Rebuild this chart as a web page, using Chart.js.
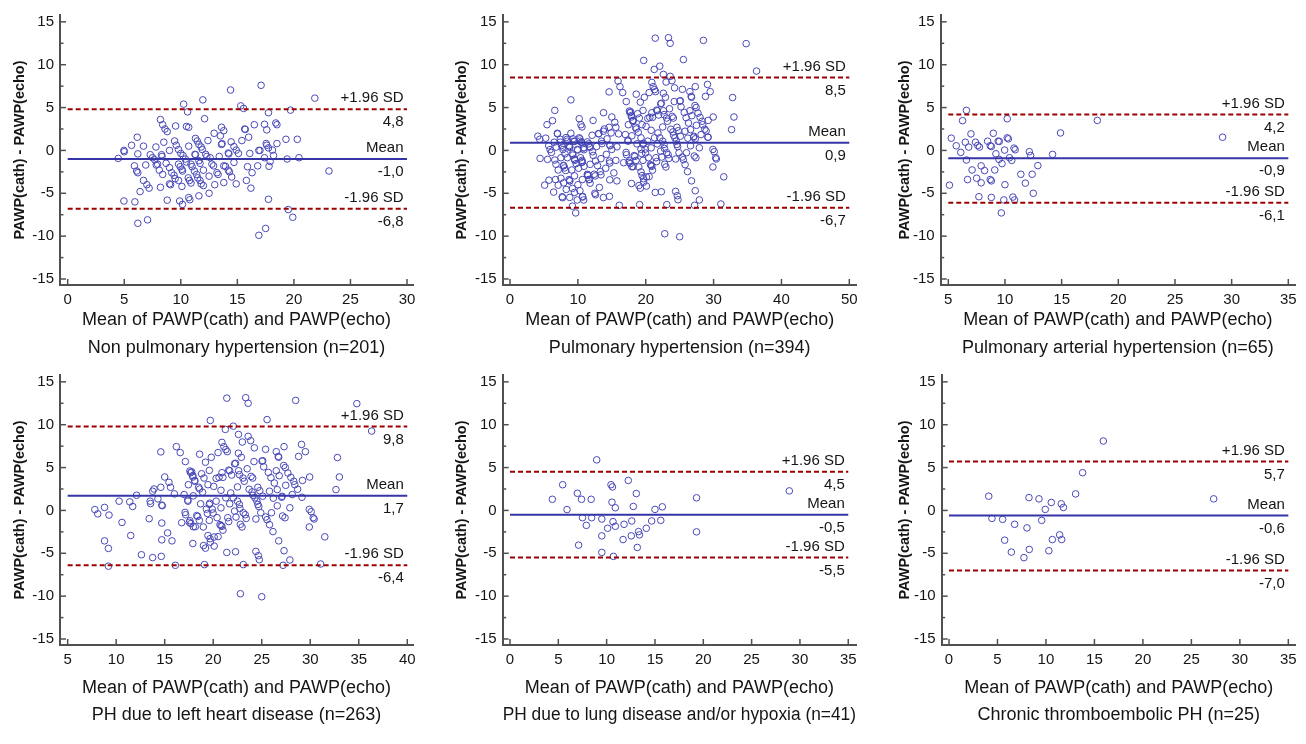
<!DOCTYPE html>
<html>
<head>
<meta charset="utf-8">
<title>Bland-Altman PAWP</title>
<script src="https://cdn.jsdelivr.net/npm/chart.js@4"></script>
<style>
  body { margin: 0; background: #fff; }
  .panel { position: absolute; }
</style>
</head>
<body>
<div id="wrap"></div>
<script>
// tick labels
const yTicks = [-15, -10, -5, 0, 5, 10, 15];
const xTicksNonPH = [0, 5, 10, 15, 20, 25, 30];
const xTicksPH = [0, 10, 20, 30, 40, 50];
const xTicksPAH = [5, 10, 15, 20, 25, 30, 35];
const xTicksLHD = [5, 10, 15, 20, 25, 30, 35, 40];
const xTicksLung = [0, 5, 10, 15, 20, 25, 30, 35];
const xTicksCTEPH = [0, 5, 10, 15, 20, 25, 30, 35];

const groupTitles = [
  'Non pulmonary hypertension (n=201)',
  'Pulmonary hypertension (n=394)',
  'Pulmonary arterial hypertension (n=65)',
  'PH due to left heart disease (n=263)',
  'PH due to lung disease and/or hypoxia (n=41)',
  'Chronic thromboembolic PH (n=25)'
];

// bias and limits of agreement
const meanDiff = [-1.0, 0.9, -0.9, 1.7, -0.5, -0.6];
const upperLoA = [4.8, 8.5, 4.2, 9.8, 4.5, 5.7];
const lowerLoA = [-6.8, -6.7, -6.1, -6.4, -5.5, -7.0];

// [mean, difference]
const nonPH = [[4.47,-0.93],[4.97,0.0],[5.0,-0.15],[4.97,-5.9],[5.65,0.6],[6.15,1.54],[5.9,-1.8],[6.1,-2.4],[6.2,-2.6],[6.2,-0.4],[5.94,-6.0],[6.2,-8.5],[6.4,-4.8],[6.7,0.5],[6.7,-3.5],[7.0,-4.0],[7.2,-4.4],[6.9,-1.7],[7.06,-8.1],[7.3,-0.5],[7.5,-0.85],[7.7,-1.1],[7.8,0.4],[7.95,-1.6],[8.1,-2.3],[8.2,3.6],[8.4,3.0],[8.6,2.5],[8.8,2.2],[8.2,-4.3],[8.3,-0.5],[8.4,-2.8],[8.5,0.96],[8.7,-1.5],[8.8,-5.8],[9.0,0.0],[9.0,-2.0],[9.2,-2.6],[9.4,-2.9],[9.5,-3.3],[9.0,-3.9],[9.1,-4.0],[9.45,1.1],[9.6,0.6],[9.8,0.1],[10.0,-0.35],[10.2,-0.6],[9.54,2.85],[9.8,-1.6],[9.95,-1.9],[10.1,-2.2],[10.15,-2.4],[9.8,-3.5],[9.9,-5.9],[10.15,-6.3],[10.1,-4.2],[10.25,5.4],[10.4,-1.0],[10.5,-1.35],[10.5,2.8],[10.7,2.7],[10.7,0.5],[10.6,4.5],[10.66,-3.2],[10.77,-3.5],[10.9,-3.8],[10.7,-5.5],[10.8,-5.75],[10.9,-1.6],[11.0,-1.9],[11.2,-2.4],[11.4,-2.8],[11.5,-3.2],[11.7,-3.5],[11.8,-3.9],[12.0,-4.1],[11.25,-0.46],[11.3,-0.5],[11.3,1.4],[11.45,1.1],[11.6,0.7],[11.8,0.4],[11.9,0.1],[11.6,-1.2],[11.7,-1.5],[11.6,-5.3],[11.95,5.9],[12.1,3.7],[12.0,-2.3],[12.2,-0.45],[12.3,-0.7],[12.4,1.15],[12.5,-5.0],[12.5,-3.0],[12.6,-0.85],[12.75,-1.6],[12.9,-1.8],[12.95,2.0],[13.0,-4.0],[13.2,-2.6],[13.3,-2.8],[13.4,-0.7],[13.5,1.7],[13.6,2.7],[13.8,2.3],[13.6,0.7],[13.65,0.8],[13.8,-1.8],[13.95,-1.85],[13.8,-3.75],[14.2,-2.3],[14.3,-2.5],[14.5,-3.1],[14.2,-0.3],[14.25,-0.4],[14.4,7.05],[14.45,1.0],[14.7,0.45],[14.9,0.04],[15.1,-0.35],[14.7,-1.4],[14.9,-3.9],[15.3,5.2],[15.55,4.9],[15.4,1.15],[15.65,2.5],[15.7,2.45],[15.8,-3.5],[15.9,-1.9],[16.0,1.55],[16.1,-0.35],[16.2,-4.4],[16.3,-2.6],[16.5,3.0],[16.8,-1.8],[16.9,0.0],[17.0,0.0],[16.9,-9.9],[17.1,7.6],[17.4,3.05],[17.4,-0.85],[17.5,-9.1],[17.55,0.8],[17.6,0.6],[17.75,0.3],[17.6,2.4],[17.75,4.4],[17.75,-5.7],[17.8,-1.85],[17.9,-1.3],[18.1,0.04],[18.2,-0.6],[18.4,3.2],[18.5,3.0],[18.5,0.8],[19.3,1.3],[19.4,-1.0],[19.5,-6.9],[19.7,4.7],[19.9,-7.8],[20.3,1.3],[20.45,-0.85],[21.85,6.1],[23.1,-2.4],[8.34,-0.7],[7.83,-1.7]];

const pah = [[5.1,-4.05],[5.26,1.43],[5.7,0.54],[6.1,-0.23],[6.26,3.47],[6.5,0.96],[6.6,4.67],[6.6,-1.12],[6.7,-3.4],[6.8,0.39],[7.0,1.93],[7.1,-2.28],[7.4,0.96],[7.5,-3.24],[7.6,0.58],[7.75,0.39],[7.7,-5.4],[7.9,-1.8],[7.9,-3.78],[8.2,-2.35],[8.47,1.08],[8.7,-3.4],[8.8,-3.55],[8.8,0.46],[8.7,0.55],[8.8,-5.48],[8.97,2.0],[9.1,-2.28],[9.2,-0.39],[9.4,1.08],[9.5,1.05],[9.47,-1.04],[9.68,-7.29],[9.74,-1.54],[9.9,-5.78],[9.97,0.04],[10.0,-4.0],[10.2,3.7],[10.2,1.47],[10.3,1.35],[10.4,-0.85],[10.6,-1.16],[10.7,-5.44],[10.8,0.27],[10.9,0.08],[10.85,-5.78],[11.4,-2.78],[11.8,-3.82],[12.15,-0.15],[12.26,-0.58],[12.4,-2.78],[12.5,-5.0],[12.9,-1.77],[14.2,-0.46],[14.9,2.04],[18.15,3.5],[29.2,1.54]];

const lhd = [[7.8,0.1],[8.1,-0.4],[8.8,0.35],[8.8,-3.55],[9.2,-4.43],[9.2,-6.5],[9.26,-0.54],[10.3,1.08],[10.6,-1.4],[11.4,1.0],[11.5,-2.93],[11.7,0.46],[12.1,1.77],[12.6,-5.17],[13.4,-0.96],[13.5,1.08],[13.55,0.8],[13.76,2.24],[13.76,-5.5],[13.9,2.5],[14.3,1.35],[14.6,6.83],[14.6,2.7],[14.7,0.62],[14.75,0.55],[14.7,-1.47],[14.7,-3.43],[14.65,-5.36],[15.0,3.9],[15.3,-2.62],[15.44,3.28],[15.6,2.7],[15.75,-3.55],[16.0,1.93],[16.1,-6.4],[16.2,7.44],[16.6,6.75],[16.75,-1.43],[17.0,1.85],[17.1,-0.23],[17.16,-0.5],[17.13,5.7],[17.4,1.08],[17.44,3.0],[17.54,-1.39],[17.6,4.6],[17.67,4.4],[17.7,-1.54],[17.9,3.9],[17.9,-3.86],[17.95,1.7],[18.1,3.4],[18.15,-1.9],[18.4,-0.7],[18.5,2.7],[18.6,2.5],[18.57,-1.16],[18.6,6.56],[18.7,0.77],[18.8,4.28],[18.9,2.12],[18.98,-1.93],[19.0,-4.1],[19.2,-4.4],[19.05,3.78],[19.1,-6.32],[19.2,5.63],[19.3,0.15],[19.4,-0.35],[19.46,3.0],[19.46,-2.93],[19.6,0.7],[19.65,0.85],[19.6,4.67],[19.67,-3.3],[19.7,-3.7],[19.6,-1.16],[19.7,10.5],[19.8,6.2],[19.9,0.15],[19.98,-0.3],[20.05,2.8],[20.1,-3.1],[20.1,-4.16],[20.3,1.08],[20.3,3.74],[20.4,-0.85],[20.5,-3.05],[20.5,6.75],[20.6,3.86],[20.7,-1.66],[20.8,-1.77],[20.9,-1.85],[20.8,0.3],[20.8,2.35],[20.9,7.94],[20.9,4.4],[21.0,3.86],[21.0,-2.3],[21.1,7.44],[21.25,9.45],[21.3,7.1],[21.45,6.86],[21.3,1.47],[21.4,13.1],[21.4,-4.9],[21.5,-0.85],[21.6,-1.3],[21.6,4.7],[21.7,4.63],[21.7,0.77],[21.8,2.04],[21.9,4.13],[22.07,9.83],[22.07,1.47],[22.2,-0.08],[22.2,5.44],[22.3,5.5],[22.3,-4.82],[22.35,-0.77],[22.5,1.08],[22.5,2.74],[22.6,8.87],[22.6,6.67],[22.62,4.63],[22.7,4.17],[22.7,0.7],[22.75,0.23],[22.8,-9.72],[22.8,-1.62],[22.9,6.2],[22.97,-1.93],[23.0,7.98],[23.07,3.78],[23.1,-6.32],[23.1,-0.27],[23.2,3.4],[23.3,-0.5],[23.35,13.15],[23.4,-0.93],[23.5,4.86],[23.6,12.5],[23.6,8.64],[23.7,2.47],[23.86,8.14],[23.9,3.97],[24.0,2.16],[24.07,3.78],[24.1,1.77],[24.2,5.7],[24.24,7.3],[24.3,1.47],[24.4,-4.78],[24.4,-1.0],[24.5,1.08],[24.6,0.7],[24.7,0.45],[24.6,2.7],[24.65,-5.28],[24.75,-5.75],[24.8,2.3],[24.9,-0.27],[25.03,5.75],[25.1,5.8],[25.0,-10.07],[25.1,1.66],[25.2,5.09],[25.4,-0.77],[25.4,7.13],[25.55,10.6],[25.54,-1.08],[25.68,4.43],[25.8,-1.66],[25.8,2.24],[25.95,3.82],[26.0,-0.27],[26.16,-2.47],[26.2,1.43],[26.3,3.2],[26.5,6.86],[26.5,4.63],[26.6,0.54],[26.7,6.3],[26.75,6.2],[26.6,2.43],[26.75,-3.55],[26.8,4.05],[27.05,1.54],[27.1,1.65],[27.15,-0.65],[27.3,7.44],[27.26,5.24],[27.3,-4.7],[27.2,-6.4],[27.4,-0.85],[27.43,5.0],[27.47,2.93],[27.7,4.36],[27.9,0.31],[27.9,-5.78],[28.0,3.86],[28.15,1.85],[28.3,3.4],[28.4,3.0],[28.5,12.84],[28.7,2.47],[28.8,6.3],[29.1,7.7],[29.2,3.5],[29.15,1.54],[29.5,6.86],[29.94,3.9],[29.9,0.12],[30.1,-0.15],[29.9,-1.93],[30.3,-0.85],[30.4,-1.0],[31.07,-6.25],[31.5,-3.08],[32.65,2.43],[32.8,6.17],[33.0,3.9],[34.8,12.46],[36.33,9.26],[17.6,-1.2],[17.95,-1.9],[18.3,-0.6],[17.78,4.5],[17.9,4.07],[18.1,3.5],[17.37,1.2]];

const lung = [[4.38,1.3],[5.45,3.0],[5.9,0.1],[6.97,2.0],[7.1,-4.05],[7.4,1.3],[7.5,-0.85],[7.9,-1.74],[8.4,1.3],[8.45,-0.85],[8.97,5.9],[9.5,-1.0],[9.5,-2.97],[9.5,-4.9],[10.1,-2.08],[10.45,3.0],[10.55,0.96],[10.6,2.74],[10.66,-1.31],[10.7,-5.36],[10.9,0.31],[10.9,-1.85],[11.7,-3.4],[11.8,-1.62],[12.24,3.5],[12.55,-2.97],[12.6,-1.23],[12.76,0.46],[13.07,1.97],[13.17,-4.32],[13.3,-2.47],[13.4,-2.85],[14.1,-2.08],[14.66,-1.23],[15.0,0.12],[15.6,-1.16],[15.76,0.42],[19.3,1.47],[19.3,-2.5],[28.9,2.28]];

const cteph = [[4.1,1.66],[4.43,-0.93],[5.53,-1.04],[5.74,-3.47],[6.43,-4.86],[6.77,-1.62],[7.73,-5.51],[8.04,-2.04],[8.25,1.5],[8.28,-4.55],[9.28,1.35],[9.56,-1.16],[9.93,0.12],[10.3,-4.7],[10.55,0.93],[10.66,-3.4],[11.41,-2.85],[11.58,0.77],[11.62,-3.4],[11.8,0.35],[13.06,1.93],[13.78,4.4],[15.92,8.1],[27.3,1.35]];

// the PH panel pools the four PH subgroups
const phAll = [].concat(pah, lhd, lung, cteph);

const groupData = [nonPH, phAll, pah, lhd, lung, cteph];
const groupXTicks = [xTicksNonPH, xTicksPH, xTicksPAH, xTicksLHD, xTicksLung, xTicksCTEPH];

// page layout of the six panels
const panelBox = [
  { left: 0,   top: 0,   w: 440, h: 360, caL: 60,   caR: 413,   xMin: -0.68, xMax: 30.53, yTitleX: 20,   row: 0 },
  { left: 440, top: 0,   w: 430, h: 360, caL: 62.7, caR: 416.7, xMin: -1.08, xMax: 51.09, yTitleX: 21.7, row: 0 },
  { left: 870, top: 0,   w: 436, h: 360, caL: 70.7, caR: 425,   xMin: 4.33,  xMax: 35.59, yTitleX: 35,   row: 0 },
  { left: 0,   top: 360, w: 440, h: 384, caL: 60,   caR: 413,   xMin: 4.21,  xMax: 40.59, yTitleX: 20,   row: 1 },
  { left: 440, top: 360, w: 430, h: 384, caL: 62.7, caR: 416,   xMin: -0.755,xMax: 35.8,  yTitleX: 21.7, row: 1 },
  { left: 870, top: 360, w: 436, h: 384, caL: 71.7, caR: 425.7, xMin: -0.753,xMax: 35.76, yTitleX: 35,   row: 1 }
];
const rowBox = [
  { caTop: 13, caBottom: 285, xTitleY: 320.5, subY: 347.7 },
  { caTop: 13, caBottom: 285, xTitleY: 328.3, subY: 355 }
];

const FONT = "'Liberation Sans', Arial, Helvetica, sans-serif";
const axisColor = '#505050';
const pointColor = '#4848b8';
const meanColor = '#3535a8';
const loaColor = '#9a0000';

Chart.defaults.font.family = FONT;
Chart.defaults.color = '#151515';

// short tick marks drawn inside the plot, like the original software
const insideTicks = {
  id: 'insideTicks',
  afterDraw(chart) {
    const { ctx, chartArea, scales: { x, y } } = chart;
    ctx.save();
    ctx.strokeStyle = axisColor;
    ctx.lineWidth = 1.5;
    const yv = y.ticks.map(t => t.value);
    yv.forEach((v, i) => {
      const py = y.getPixelForValue(v);
      ctx.beginPath(); ctx.moveTo(chartArea.left, py); ctx.lineTo(chartArea.left + 6, py); ctx.stroke();
      if (i < yv.length - 1) {
        const pm = y.getPixelForValue((v + yv[i + 1]) / 2);
        ctx.beginPath(); ctx.moveTo(chartArea.left, pm); ctx.lineTo(chartArea.left + 3.5, pm); ctx.stroke();
      }
    });
    x.ticks.forEach(t => {
      const px = x.getPixelForValue(t.value);
      ctx.beginPath(); ctx.moveTo(px, chartArea.bottom); ctx.lineTo(px, chartArea.bottom - 6); ctx.stroke();
    });
    ctx.restore();
  }
};

// "+1.96 SD / Mean / -1.96 SD" captions with their values
const loaLabels = {
  id: 'loaLabels',
  afterDatasetsDraw(chart, args, opts) {
    const { ctx, scales: { x, y } } = chart;
    const xr = x.getPixelForValue(opts.xEnd) - 3.5;
    const fmt = v => v.toFixed(1).replace('.', ',');
    ctx.save();
    ctx.font = '15px ' + FONT;
    ctx.fillStyle = '#151515';
    ctx.textAlign = 'right';
    ctx.textBaseline = 'middle';
    [['+1.96 SD', opts.upper], ['Mean', opts.mean], ['-1.96 SD', opts.lower]].forEach(([lab, v]) => {
      const py = y.getPixelForValue(v);
      ctx.fillText(lab, xr, py - 11);
      ctx.fillText(fmt(v), xr, py + 13);
    });
    ctx.restore();
  }
};

function hLine(x0, x1, v) {
  return [{ x: x0, y: v }, { x: x1, y: v }];
}

const wrap = document.getElementById('wrap');

groupData.forEach((pts, i) => {
  const box = panelBox[i];
  const row = rowBox[box.row];
  const ticksX = groupXTicks[i];
  const x0 = ticksX[0], x1 = ticksX[ticksX.length - 1];

  const div = document.createElement('div');
  div.className = 'panel';
  div.style.left = box.left + 'px';
  div.style.top = box.top + 'px';
  div.style.width = box.w + 'px';
  div.style.height = box.h + 'px';
  const canvas = document.createElement('canvas');
  div.appendChild(canvas);
  wrap.appendChild(div);

  const titleLH = 18 * 1.2;
  const subBoxTop = row.subY - titleLH / 2;

  new Chart(canvas, {
    type: 'scatter',
    data: {
      datasets: [
        {
          data: hLine(x0, x1, upperLoA[i]), showLine: true, pointRadius: 0,
          borderColor: loaColor, borderWidth: 2, borderDash: [5, 3]
        },
        {
          data: hLine(x0, x1, lowerLoA[i]), showLine: true, pointRadius: 0,
          borderColor: loaColor, borderWidth: 2, borderDash: [5, 3]
        },
        {
          data: hLine(x0, x1, meanDiff[i]), showLine: true, pointRadius: 0,
          borderColor: meanColor, borderWidth: 2
        },
        {
          data: pts.map(p => ({ x: p[0], y: p[1] })),
          pointStyle: 'circle', pointRadius: 3.3, borderWidth: 1,
          borderColor: pointColor, backgroundColor: 'rgba(0,0,0,0)'
        }
      ]
    },
    options: {
      responsive: true,
      maintainAspectRatio: false,
      animation: false,
      events: [],
      layout: { padding: { left: 0, right: box.w - box.caR, top: row.caTop, bottom: 0 } },
      plugins: {
        legend: { display: false },
        tooltip: { enabled: false },
        title: {
          display: true,
          position: 'bottom',
          fullSize: false,
          text: groupTitles[i],
          color: '#151515',
          font: { size: 18, weight: 'normal' },
          padding: { top: 0, bottom: box.h - row.subY - titleLH / 2 }
        },
        loaLabels: { xEnd: x1, mean: meanDiff[i], upper: upperLoA[i], lower: lowerLoA[i] }
      },
      scales: {
        x: {
          type: 'linear',
          min: box.xMin,
          max: box.xMax,
          afterBuildTicks: s => { s.ticks = ticksX.map(v => ({ value: v })); },
          afterFit: s => { s.height = subBoxTop - row.caBottom; },
          ticks: { autoSkip: false, maxRotation: 0, padding: 6, font: { size: 15 }, color: '#151515' },
          grid: { display: false, drawTicks: false },
          border: { display: true, color: axisColor, width: 2 },
          title: {
            display: true,
            text: 'Mean of PAWP(cath) and PAWP(echo)',
            color: '#151515',
            font: { size: 18 },
            padding: { top: 0, bottom: subBoxTop - row.xTitleY - titleLH / 2 }
          }
        },
        y: {
          type: 'linear',
          min: -15.7,
          max: 15.8,
          afterBuildTicks: s => { s.ticks = yTicks.map(v => ({ value: v })); },
          afterFit: s => { s.width = box.caL; },
          ticks: { autoSkip: false, padding: 6, font: { size: 15 }, color: '#151515' },
          grid: { display: false, drawTicks: false },
          border: { display: true, color: axisColor, width: 2 },
          title: {
            display: true,
            text: 'PAWP(cath) - PAWP(echo)',
            color: '#151515',
            font: { size: 14.5, weight: 'bold' },
            padding: { top: box.yTitleX - 14.5 * 1.2 / 2, bottom: 0 }
          }
        }
      }
    },
    plugins: [insideTicks, loaLabels]
  });
});
</script>
</body>
</html>
